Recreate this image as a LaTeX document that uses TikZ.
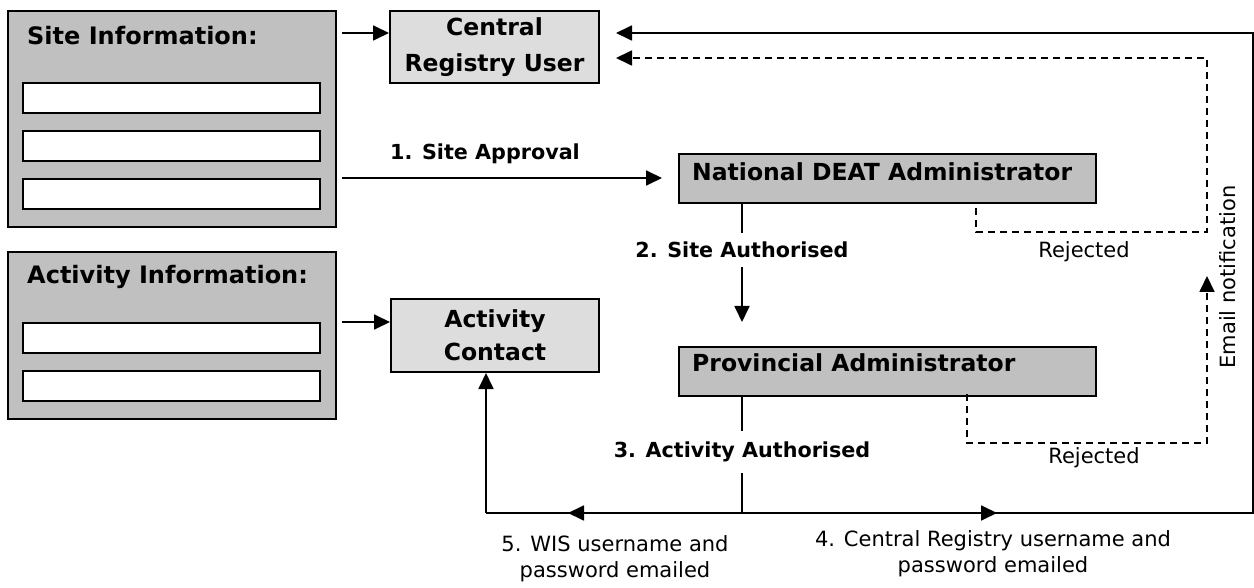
\documentclass[tikz,border=0pt]{standalone}
\usepackage{fontspec}
\setmainfont{DejaVu Sans}
\usetikzlibrary{arrows.meta}
\definecolor{boxdark}{HTML}{C0C0C0}
\definecolor{boxlight}{HTML}{DDDDDD}

\begin{document}
\begin{tikzpicture}[x=1pt,y=-1pt,
  infobox/.style={draw,line width=2pt,fill=boxdark,inner sep=0,anchor=north west},
  field/.style={draw,line width=2pt,fill=white,minimum width=297pt,minimum height=30pt,inner sep=0,anchor=north west},
  userbox/.style={draw,line width=2pt,fill=boxlight,align=center,inner sep=0,anchor=north west},
  admin/.style={draw,line width=2pt,fill=boxdark,minimum width=417pt,minimum height=49pt,inner sep=0,anchor=north west},
  boxlbl/.style={font=\fontsize{23.5}{28}\bfseries,anchor=west,inner sep=0},
  infotitle/.style={font=\fontsize{24}{28}\bfseries,anchor=base west,inner sep=0},
  flowlbl/.style={font=\fontsize{20.7}{25}\bfseries,inner sep=0},
  note/.style={font=\fontsize{21}{26}\selectfont,align=center,inner sep=0},
  link/.style={line width=1.8pt},
  arr/.style={line width=1.8pt,-{Triangle[length=16pt,width=15pt]}},
  rej/.style={dash pattern=on 7pt off 5pt}]
  \useasboundingbox (0,0) rectangle (1254,588);

  %% site information
  \node[infobox,minimum width=328pt,minimum height=216pt] (siteinfo) at (7,10) {};
  \node[infotitle] (sitetitle) at (27,45) {Site Information:};
  \node[field] (sitef1) at (22,82) {};
  \node[field] (sitef2) at (22,130) {};
  \node[field] (sitef3) at (22,178) {};

  %% activity information
  \node[infobox,minimum width=328pt,minimum height=167pt] (actinfo) at (7,251) {};
  \node[infotitle] (acttitle) at (27,284) {Activity Information:};
  \node[field] (actf1) at (22,322) {};
  \node[field] (actf2) at (22,370) {};

  %% users
  \node[userbox,minimum width=209pt,minimum height=72pt,font=\fontsize{23.5}{36}\bfseries] (central) at (389,10) {Central\\Registry User};
  \node[userbox,minimum width=208pt,minimum height=73pt,font=\fontsize{23.5}{33}\bfseries] (actcontact) at (390,298) {Activity\\Contact};

  %% administrators
  \node[admin] (natadmin) at (678,153) {};
  \node[boxlbl] (natlbl) at (692,172) {National DEAT Administrator};
  \node[admin] (provadmin) at (678,346) {};
  \node[boxlbl] (provlbl) at (692,363) {Provincial Administrator};

  %% labels
  \node[flowlbl,anchor=base] (approvelbl) at (485,160) {1. Site Approval};
  \node[flowlbl,minimum height=34pt] (sitelbl) at (742,250) {2. Site Authorised};
  \node[flowlbl,minimum height=42pt] (actlbl) at (742,452) {3. Activity Authorised};
  \node[note] (crlbl) at (993,554) {4. Central Registry username and\\password emailed};
  \node[note] (wislbl) at (615,559) {5. WIS username and\\password emailed};
  \node[note] (rejnat) at (1084,252) {Rejected};
  \node[note] (rejprov) at (1094,458) {Rejected};
  \node[note,rotate=90] (emaillbl) at (1228,277) {Email notification};

  %% points
  \coordinate (siteout) at (342,33);
  \coordinate (approveout) at (342,178);
  \coordinate (approvein) at (662,178);
  \coordinate (actout) at (342,322);
  \coordinate (provin) at (742,322);
  \coordinate (split) at (742,513);
  \coordinate (wistip) at (568,513);
  \coordinate (wiscorner) at (486,513);
  \coordinate (crtip) at (997,513);
  \coordinate (crcorner) at (1253,513);
  \coordinate (crtop) at (1253,33);
  \coordinate (crin) at (616,33);
  \coordinate (rejin) at (616,58);
  \coordinate (natrej) at (976,208);
  \coordinate (provrej) at (967,394);
  \coordinate (emailtip) at (1207,276);

  %% inputs
  \draw[arr] (siteout) -- (central.west |- siteout);
  \draw[arr] (approveout) -- (approvein);
  \draw[arr] (actout) -- (actcontact.west |- actout);

  %% approval chain
  \draw[link] (natadmin.south -| sitelbl) -- (sitelbl.north);
  \draw[arr] (sitelbl.south) -- (provin);
  \draw[link] (provadmin.south -| actlbl) -- (actlbl.north);
  \draw[link] (actlbl.south) -- (split);

  %% emails
  \draw[link] (split) -- (wiscorner);
  \draw[arr] (split) -- (wistip);
  \draw[arr] (wiscorner) -- (actcontact.south -| wiscorner);
  \draw[arr] (split) -- (crcorner) -- (crtop) -- (crin);
  \draw[arr] (split) -- (crtip);

  %% rejected
  \draw[arr,rej] (natrej) |- (1207,232) -- (1207,58) -- (rejin);
  \draw[arr,rej] (provrej) |- (1207,443) -- (emailtip);

\end{tikzpicture}
\end{document}
